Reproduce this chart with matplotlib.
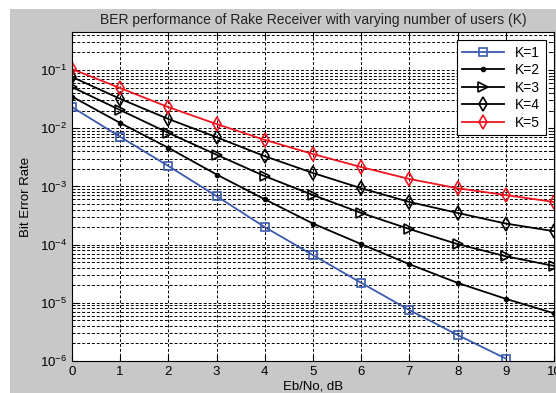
import numpy as np
import matplotlib.pyplot as plt
from matplotlib.patches import Rectangle

plt.rcParams['font.family'] = ['Liberation Sans', 'DejaVu Sans']
plt.rcParams['mathtext.default'] = 'regular'

ebno = np.arange(0, 11)
k1 = [0.0231, 7.1e-3, 2.24e-3, 6.8e-4, 2.0e-4, 6.6e-5, 2.2e-5, 7.5e-6, 2.8e-6, 1.1e-6]
k2 = [0.035, 0.0123, 4.6e-3, 1.6e-3, 6.0e-4, 2.3e-4, 1.02e-4, 4.6e-5, 2.2e-5, 1.17e-5, 6.6e-6]
k3 = [0.051, 0.0205, 8.3e-3, 3.5e-3, 1.5e-3, 7.1e-4, 3.5e-4, 1.85e-4, 1.02e-4, 6.3e-5, 4.3e-5]
k4 = [0.076, 0.032, 0.0144, 7.0e-3, 3.3e-3, 1.7e-3, 9.3e-4, 5.4e-4, 3.5e-4, 2.3e-4, 1.7e-4]
k5 = [0.104, 0.049, 0.023, 0.0118, 6.3e-3, 3.6e-3, 2.15e-3, 1.34e-3, 9.3e-4, 7.1e-4, 5.4e-4]
labels = ['K=1', 'K=2', 'K=3', 'K=4', 'K=5']

fig = plt.figure(figsize=(5.56, 3.93), dpi=100, facecolor='white')
fig.patches.append(Rectangle((10 / 556, 0), 1, 1 - 9 / 393, transform=fig.transFigure,
                             facecolor='#c8c8c8', edgecolor='none', zorder=-10))
ax = fig.add_axes([72 / 556, 1 - 361 / 393, 482 / 556, 329 / 393])

ax.semilogy(ebno[:10], k1, color='#3a5aae', marker='s', mfc='none', ms=6, mew=1.2, lw=1.3, label=labels[0])
ax.semilogy(ebno, k2, color='black', marker='.', ms=6, lw=1.3, label=labels[1])
ax.semilogy(ebno, k3, color='black', marker='>', mfc='none', ms=7, mew=1.2, lw=1.3, label=labels[2])
ax.semilogy(ebno, k4, color='black', marker='d', mfc='none', ms=7, mew=1.2, lw=1.3, label=labels[3])
ax.semilogy(ebno, k5, color='#f0141e', marker='d', mfc='none', ms=7, mew=1.2, lw=1.3, label=labels[4])

ax.set_xlim(0, 10)
ax.set_ylim(1e-6, 0.45)
ax.set_xticks(ebno)
ax.set_yticks([1e-6, 1e-5, 1e-4, 1e-3, 1e-2, 1e-1])
ax.set_yticklabels(['$10^{-6}$', '$10^{-5}$', '$10^{-4}$', '$10^{-3}$', '$10^{-2}$', '$10^{-1}$'])
ax.tick_params(which='both', direction='in', top=True, right=True, labelsize=9.5, colors='black')
ax.tick_params(which='major', length=4)
ax.tick_params(which='minor', length=2)
ax.grid(True, which='major', color='black', linestyle=(0, (3, 2)), lw=0.7)
ax.grid(True, which='minor', color='black', linestyle=(0, (3, 2)), lw=0.7)

ax.set_title('BER performance of Rake Receiver with varying number of users (K)', fontsize=10, color='#222222', pad=6)
ax.set_xlabel('Eb/No, dB', fontsize=9.5, labelpad=2)
ax.set_ylabel('Bit Error Rate', fontsize=9.5, labelpad=6)

leg = ax.legend(loc='upper right', fontsize=10, fancybox=False, framealpha=1, edgecolor='black',
                borderaxespad=0.6, handlelength=3, labelspacing=0.25, borderpad=0.4)
leg.get_frame().set_linewidth(0.8)

fig.savefig('out.png', dpi=100, facecolor=fig.get_facecolor())
